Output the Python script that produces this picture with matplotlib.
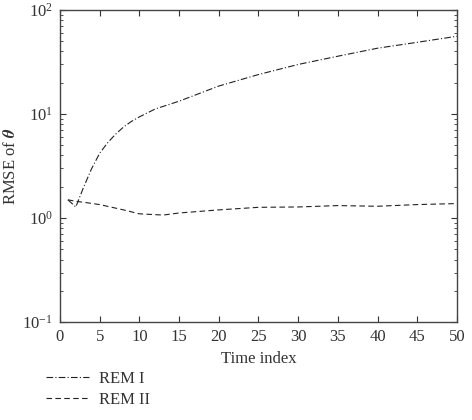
import numpy as np
import matplotlib.pyplot as plt
from matplotlib.lines import Line2D

plt.rcParams['font.family'] = ['Liberation Serif', 'DejaVu Serif']
plt.rcParams['mathtext.fontset'] = 'stix'

# values
t_rem1 = [1, 2, 3, 4, 5, 6, 7, 8, 9, 10, 12, 15, 20, 25, 30, 35, 40, 45, 50]
rmse_rem1 = [1.5, 1.28, 2.0, 3.0, 4.2, 5.3, 6.4, 7.5, 8.5, 9.4, 11.2, 13.3,
             18.6, 24, 30, 36, 43, 49, 56]

t_rem2 = [1, 2, 3, 5, 8, 10, 13, 15, 20, 25, 30, 35, 40, 45, 50]
rmse_rem2 = [1.5, 1.45, 1.42, 1.35, 1.2, 1.1, 1.07, 1.12, 1.2, 1.27,
             1.28, 1.32, 1.3, 1.35, 1.38]

xticks = list(range(0, 55, 5))

fig = plt.figure(figsize=(4.72, 4.2), dpi=100)
ax = fig.add_axes([0.127, 0.233, 0.841, 0.743])

ax.plot(t_rem1, rmse_rem1, color="#222222", lw=0.8, linestyle=(0, (6, 2, 1, 2)))
ax.plot(t_rem2, rmse_rem2, color="#222222", lw=0.8, linestyle=(0, (5, 3)))

ax.set_yscale("log")
ax.set_ylim(0.1, 100)
ax.set_xlim(0, 50)
ax.set_xticks(xticks)
ax.tick_params(which="both", direction="in", top=True, right=True,
               labelsize=12, colors="#333333")
ax.tick_params(which="major", length=4, pad=5)
ax.tick_params(which="minor", length=2)
for s in ax.spines.values():
    s.set_color("#444444")
    s.set_linewidth(1.0)

ax.set_xlabel("Time index", fontsize=12, color="#333333", labelpad=4)
ax.set_ylabel(r"RMSE of $\boldsymbol{\theta}$", fontsize=12, color="#333333")
ax.yaxis.set_label_coords(-0.104, 0.5)

handles = [Line2D([], [], color="#222222", lw=0.8, linestyle=(0, (6, 2, 1, 2))),
           Line2D([], [], color="#222222", lw=0.8, linestyle=(0, (5, 3)))]
fig.legend(handles, ["REM I", "REM II"], loc="upper left",
           bbox_to_anchor=(0.065, 0.153), frameon=False, fontsize=12,
           handlelength=2.6, handletextpad=0.6, labelspacing=0.3,
           labelcolor="#333333")

fig.savefig("out.png", dpi=100)
